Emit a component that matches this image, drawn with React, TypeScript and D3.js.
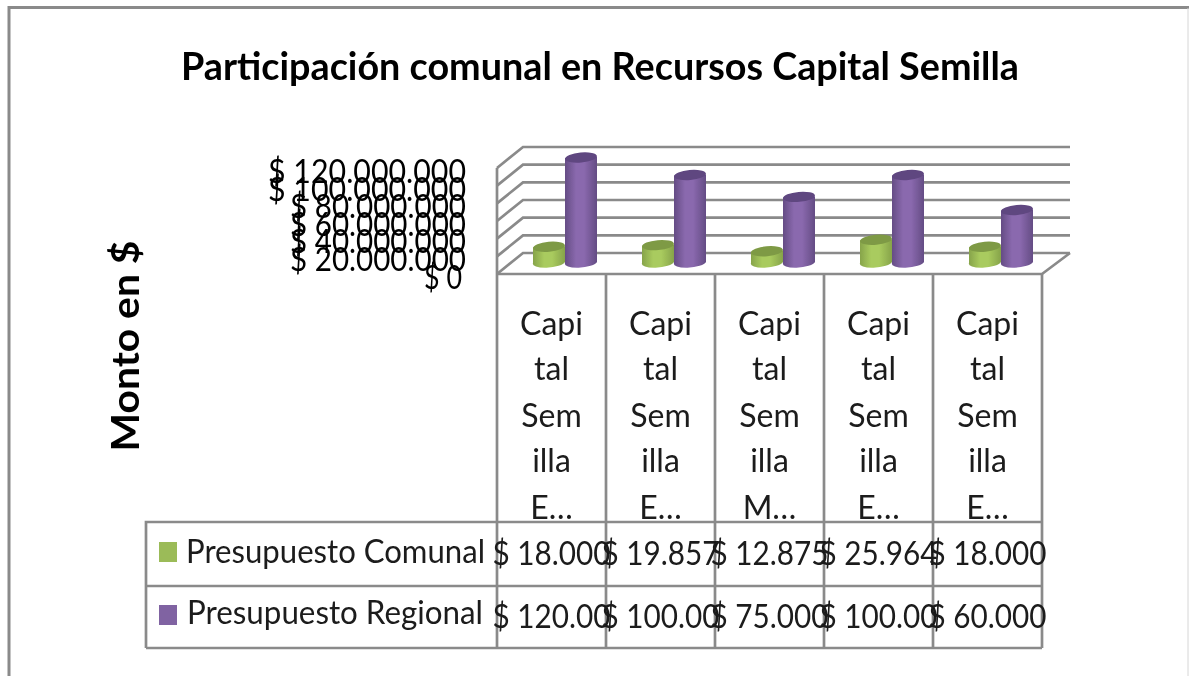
import React from "react";
import * as d3 from "d3";

const titleText = "Participación comunal en Recursos Capital Semilla";
const yAxisTitle = "Monto en $";
const categoryLines = [
  ["Capi", "tal", "Sem", "illa", "E…"],
  ["Capi", "tal", "Sem", "illa", "E…"],
  ["Capi", "tal", "Sem", "illa", "M…"],
  ["Capi", "tal", "Sem", "illa", "E…"],
  ["Capi", "tal", "Sem", "illa", "E…"],
];
const categoryIds = ["c1", "c2", "c3", "c4", "c5"];
const seriesNames = ["Presupuesto Comunal", "Presupuesto Regional"];
const comunalValues = [18000000, 19857000, 12875000, 25964000, 18000000];
const regionalValues = [120000000, 100000000, 75000000, 100000000, 60000000];
const comunalLabels = ["$ 18.000", "$ 19.857", "$ 12.875", "$ 25.964", "$ 18.000"];
const regionalLabels = ["$ 120.00", "$ 100.00", "$ 75.000", "$ 100.00", "$ 60.000"];
const yTicks = [0, 20000000, 40000000, 60000000, 80000000, 100000000, 120000000];
const yTickLabels = ["$ 0", "$ 20.000.000", "$ 40.000.000", "$ 60.000.000", "$ 80.000.000", "$ 100.000.000", "$ 120.000.000"];

const GRID = "#8a8a8a";
const FONT = "Lato, 'Open Sans', sans-serif";
const INK = "#1a1a1a";

const x = d3.scaleBand<string>().domain(categoryIds).range([497, 1042]);
const inner = d3.scaleBand<string>().domain(seriesNames).range([36, 100]);
const yBack = d3.scaleLinear().domain([0, 120000000]).range([253, 147]);
const yBar = d3.scaleLinear().domain([0, 120000000]).range([263, 158]);
const yLabel = d3.scaleLinear().domain([0, 120000000]).range([288.5, 183]);
const DEPTH_X = 26;
const DEPTH_Y = 21;

const palette = [
  { id: "green", edge: "#86a34a", mid: "#a9cb5e", top: "#7e9a45" },
  { id: "purple", edge: "#644c84", mid: "#8a69ae", top: "#5f4680" },
];

function Cylinder({ x0, w, y0, y1, c }: { x0: number; w: number; y0: number; y1: number; c: (typeof palette)[0] }) {
  const rx = w / 2;
  const ry = 5;
  const cx = x0 + rx;
  const tilt = -5;
  return (
    <g>
      <path
        d={`M${x0},${y1} L${x0},${y0} A${rx},${ry} ${tilt} 0 0 ${x0 + w},${y0 - 1} L${x0 + w},${y1 - 1} Z`}
        fill={`url(#${c.id})`}
      />
      <ellipse cx={cx} cy={y1 - 0.5} rx={rx} ry={ry} transform={`rotate(${tilt} ${cx} ${y1 - 0.5})`} fill={c.top} />
    </g>
  );
}

export default function App() {
  const rows = [
    { values: comunalValues, labels: comunalLabels, c: palette[0], name: seriesNames[0], keyY: 542, textY: 563, valY: 565, textX: 186, textW: 299 },
    { values: regionalValues, labels: regionalLabels, c: palette[1], name: seriesNames[1], keyY: 605, textY: 624, valY: 627.5, textX: 187, textW: 296 },
  ];
  const bw = x.bandwidth();
  const tableX = [146, ...categoryIds.map((id) => x(id)!), 1042];
  return (
    <svg width={1189} height={676} style={{ position: "absolute", left: 0, top: 0, display: "block", background: "#fff" }}>
      <defs>
        {palette.map((c) => (
          <linearGradient key={c.id} id={c.id} x1="0" x2="1" y1="0" y2="0">
            <stop offset="0" stopColor={c.edge} />
            <stop offset="0.35" stopColor={c.mid} />
            <stop offset="0.6" stopColor={c.mid} />
            <stop offset="1" stopColor={c.edge} />
          </linearGradient>
        ))}
        <filter id="soft" x="0" y="0" width="1189" height="676" filterUnits="userSpaceOnUse">
          <feGaussianBlur stdDeviation="0.7" />
        </filter>
      </defs>
      <g filter="url(#soft)">
        <path d="M9,676 L9,7.5 L1189,7.5" fill="none" stroke={GRID} strokeWidth={3} />
        <line x1={1188} x2={1188} y1={8} y2={676} stroke="#d6d6d6" strokeWidth={1} />

        <text x={600} y={80} textAnchor="middle" fontFamily={FONT} fontWeight={700} fontSize={39} fill="#000" textLength={838} lengthAdjust="spacingAndGlyphs">
          {titleText}
        </text>

        <text transform="translate(139,346) rotate(-90)" textAnchor="middle" fontFamily={FONT} fontWeight={700} fontSize={38} fill="#000" textLength={211} lengthAdjust="spacingAndGlyphs">
          {yAxisTitle}
        </text>

        {/* walls and floor */}
        <g fill="none" stroke={GRID} strokeWidth={2.7}>
          {yTicks.map((t) => (
            <path key={t} d={`M${497},${yBack(t) + DEPTH_Y} L${497 + DEPTH_X},${yBack(t)} L1070,${yBack(t)}`} />
          ))}
          <path d={`M497,${yBack(120000000) + DEPTH_Y} L497,648`} />
          <path d={`M497,${yBack(0) + DEPTH_Y} L1042,${yBack(0) + DEPTH_Y} L1070,${yBack(0)}`} />
          {/* table */}
          {tableX.slice(2).map((px) => (
            <line key={px} x1={px} x2={px} y1={274} y2={648} />
          ))}
          <path d="M146,648 L146,522 L1042,522" />
          <path d="M146,586 L1042,586" />
          <path d="M146,648 L1042,648" />
        </g>

        {/* cylinders */}
        {categoryIds.map((id, i) => (
          <g key={id}>
            {rows.map((r) => (
              <Cylinder
                key={r.name}
                x0={x(id)! + inner(r.name)!}
                w={inner.bandwidth()}
                y0={yBar(0)}
                y1={yBar(r.values[i])}
                c={r.c}
              />
            ))}
          </g>
        ))}

        {/* y tick labels */}
        {yTicks.map((t, i) => (
          <text
            key={t}
            x={i === 0 ? 462 : 466}
            y={yLabel(t)}
            textAnchor="end"
            fontFamily={FONT}
            fontSize={33}
            fill="#000"
            textLength={i === 0 ? 38 : i >= 5 ? 198 : 176}
            lengthAdjust="spacingAndGlyphs"
          >
            {yTickLabels[i]}
          </text>
        ))}

        {/* category labels */}
        {categoryIds.map((id, i) => (
          <g key={id}>
            {categoryLines[i].map((line, j) => (
              <text
                key={j}
                x={x(id)! + bw / 2}
                y={[335, 380, 426.5, 472, 519][j]}
                textAnchor="middle"
                fontFamily={FONT}
                fontSize={32}
                fill={INK}
              >
                {line}
              </text>
            ))}
          </g>
        ))}

        {/* data table rows */}
        {rows.map((r) => (
          <g key={r.name}>
            <rect x={159} y={r.keyY} width={18} height={20} fill={r.c.id === "green" ? "#9bbb59" : "#8064a2"} />
            <text x={r.textX} y={r.textY} fontFamily={FONT} fontSize={33} fill={INK} textLength={r.textW} lengthAdjust="spacingAndGlyphs">
              {r.name}
            </text>
            {categoryIds.map((id, i) => (
              <text
                key={id}
                x={x(id)! + bw / 2}
                y={r.valY}
                textAnchor="middle"
                fontFamily={FONT}
                fontSize={33}
                fill={INK}
                textLength={118}
                lengthAdjust="spacingAndGlyphs"
              >
                {r.labels[i]}
              </text>
            ))}
          </g>
        ))}
      </g>
    </svg>
  );
}
